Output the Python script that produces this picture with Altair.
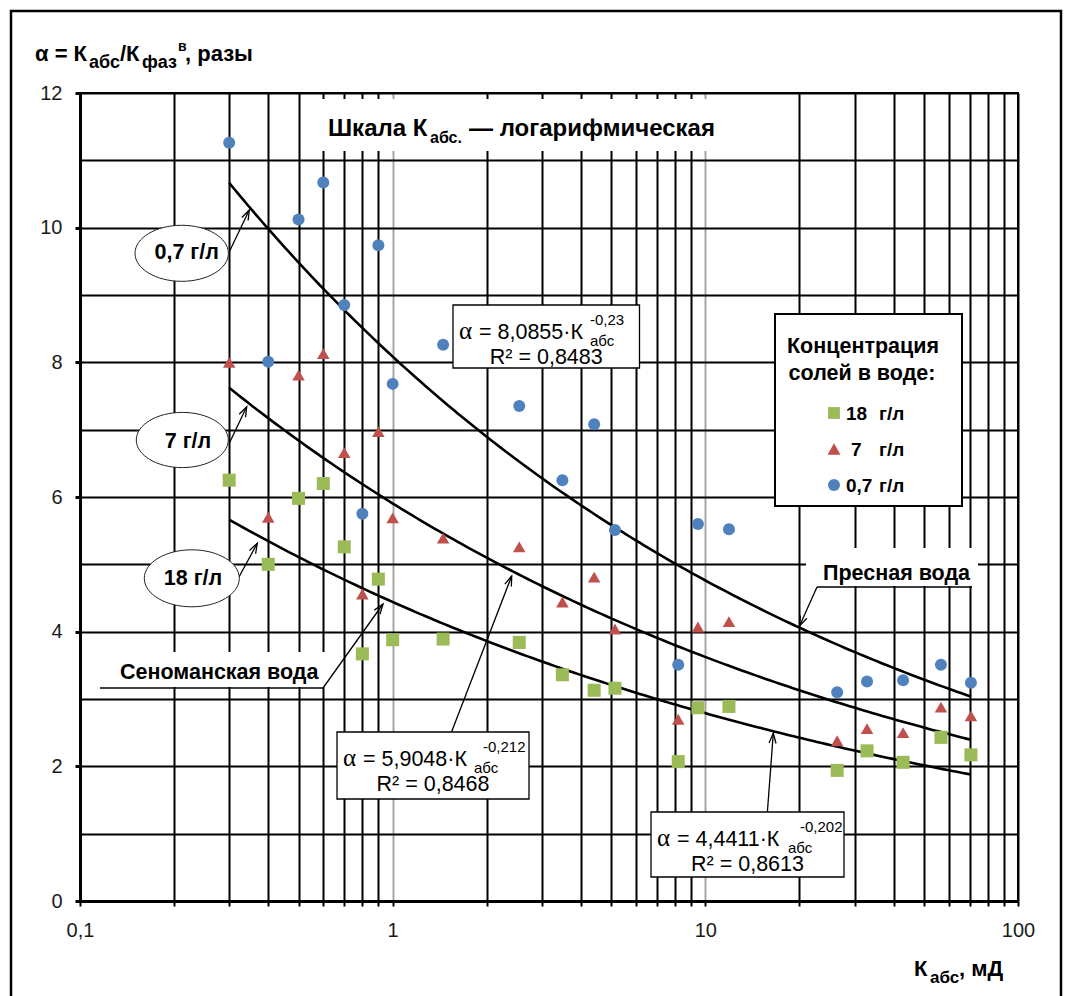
import math

import altair as alt
import numpy as np
import pandas as pd

# ---------------------------------------------------------------- data
# Absolute permeability K_abs, mD (same core samples for all three brines)
k_abs = [0.3, 0.4, 0.5, 0.6, 0.7, 0.8, 0.9, 1.0, 1.45, 2.54, 3.49, 4.41, 5.14,
         8.19, 9.47, 11.9, 26.4, 32.9, 42.9, 56.7, 70.7]

# alpha = K_abs / K_phase (water), times
alpha_07 = [11.26, 8.01, 10.12, 10.67, 8.85, 5.75, 9.74, 7.68, 8.26, 7.35, 6.25,
            7.08, 5.51, 3.51, 5.60, 5.52, 3.10, 3.26, 3.28, 3.51, 3.24]
alpha_7 = [8.00, 5.70, 7.81, 8.13, 6.66, 4.56, 6.97, 5.69, 5.39, 5.26, 4.44,
           4.81, 4.04, 2.70, 4.07, 4.15, 2.38, 2.56, 2.50, 2.88, 2.75]
alpha_18 = [6.25, 5.00, 5.98, 6.20, 5.26, 3.67, 4.78, 3.88, 3.89, 3.84, 3.36,
            3.13, 3.16, 2.07, 2.87, 2.89, 1.94, 2.23, 2.06, 2.43, 2.17]

series = ["0,7 г/л", "7 г/л", "18 г/л"]
colors = ["#4F81BD", "#C0504D", "#9BBB59"]
shapes = ["circle", "triangle-up", "square"]
sizes = [144, 170, 140]

# power-law trend lines alpha = a * K^b
fit_a = [8.0855, 5.9048, 4.4411]
fit_b = [-0.23, -0.212, -0.202]
fit_r2 = [0.8483, 0.8468, 0.8613]

x_ticks = [0.1, 0.2, 0.3, 0.4, 0.5, 0.6, 0.7, 0.8, 0.9,
           1, 2, 3, 4, 5, 6, 7, 8, 9,
           10, 20, 30, 40, 50, 60, 70, 80, 90, 100]
y_ticks = list(range(0, 13))

# ---------------------------------------------------------------- frames
points = pd.DataFrame({
    "k": k_abs * 3,
    "alpha": alpha_07 + alpha_7 + alpha_18,
    "series": [s for s in series for _ in k_abs],
})

k_line = np.geomspace(min(k_abs), max(k_abs), 160)
curves = pd.concat([
    pd.DataFrame({"k": k_line, "alpha": a * k_line ** b, "series": s})
    for s, a, b in zip(series, fit_a, fit_b)
])

SANS = "Liberation Sans"
SERIF = "Liberation Serif"
OX, OY = 80, 93          # top-left corner of the plot area on the canvas
ONE = pd.DataFrame({"k": [0]})


def num(v):
    return str(v).replace(".", ",")


def px(x):
    return alt.value(x - OX)


def py(y):
    return alt.value(y - OY)


def text(x, y, s, size, weight="bold", font=SANS, align="left"):
    return alt.Chart(ONE).mark_text(
        text=s, font=font, fontSize=size, fontWeight=weight, align=align,
        baseline="alphabetic", color="black",
    ).encode(x=px(x), y=py(y))


def box(x1, y1, x2, y2, stroke=None, width=1.0):
    kw = {"fill": "white"}
    if stroke:
        kw.update(stroke=stroke, strokeWidth=width)
    return alt.Chart(ONE).mark_rect(**kw).encode(
        x=px(x1), x2=px(x2), y=py(y1), y2=py(y2))


def segment(x1, y1, x2, y2, width=1.3):
    return alt.Chart(ONE).mark_rule(color="black", strokeWidth=width).encode(
        x=px(x1), y=py(y1), x2=px(x2), y2=py(y2))


HEAD = "M -0.35 1 L 0 0 L 0.35 1"          # open arrow head, tip at origin
ELLIPSE = "M -1 0 A 1 0.6 0 1 1 1 0 A 1 0.6 0 1 1 -1 0 Z"


def arrow(x1, y1, x2, y2):
    ang = math.degrees(math.atan2(x2 - x1, -(y2 - y1))) % 360
    line = segment(x1, y1, x2, y2)
    head = alt.Chart(ONE).mark_point(
        shape=HEAD, size=400, angle=ang, filled=False, color="black",
        strokeWidth=1.3, opacity=1,
    ).encode(x=px(x2), y=py(y2))
    return [line, head]


def ellipse(cx, cy, rx):
    return alt.Chart(ONE).mark_point(
        shape=ELLIPSE, size=(2 * rx) ** 2, filled=True, fill="white",
        stroke="#222222", strokeWidth=1, opacity=1,
    ).encode(x=px(cx), y=py(cy))


# ---------------------------------------------------------------- axes
x_axis = alt.Axis(
    values=x_ticks, grid=True,
    gridColor={"condition": {"test": "datum.value == 1 || datum.value == 10",
                             "value": "#a6a6a6"}, "value": "black"},
    gridWidth=2, domainColor="black", domainWidth=3,
    tickColor="black", tickWidth=2, tickSize=5,
    labelExpr="datum.value == 0.1 ? '0,1' : (datum.value == 1 || datum.value == 10"
              " || datum.value == 100) ? format(datum.value, 'd') : ''",
    labelFont=SANS, labelFontSize=20, labelColor="#1a1a1a", labelPadding=14,
    labelFlush=False, labelOverlap=False, title=None,
)
y_axis = alt.Axis(
    values=y_ticks, grid=True, gridColor="black", gridWidth=2,
    domainColor="black", domainWidth=3,
    tickColor="black", tickWidth=3, tickSize=5,
    tickOpacity={"condition": {"test": "datum.value % 2 == 0", "value": 1}, "value": 0},
    labelExpr="datum.value % 2 == 0 ? format(datum.value, 'd') : ''",
    labelFont=SANS, labelFontSize=20, labelColor="#1a1a1a", labelPadding=13,
    labelFlush=False, labelOverlap=False, title=None,
)
x_enc = alt.X("k:Q", scale=alt.Scale(type="log", domain=[0.1, 100], nice=False), axis=x_axis)
y_enc = alt.Y("alpha:Q", scale=alt.Scale(domain=[0, 12], nice=False, zero=False), axis=y_axis)

# ---------------------------------------------------------------- layers
layers = []

# outer frame of the figure
layers.append(alt.Chart(ONE).mark_rect(fill="white", fillOpacity=0, stroke="black", strokeWidth=2.5)
              .encode(x=px(11), x2=px(1061), y=py(11), y2=py(1010)))

# white backgrounds behind free-standing captions
layers += [box(310, 99, 720, 151), box(806, 548, 978, 586), box(98, 652, 326, 687)]

layers.append(alt.Chart(curves).mark_line(color="black", strokeWidth=2.6).encode(
    x=x_enc, y=y_enc, detail="series:N"))

# leader lines
layers += [segment(817, 587, 972, 587), segment(100, 688, 323, 688)]
layers += arrow(817, 587, 799.5, 626)
layers += arrow(323, 688, 383, 604)
layers += arrow(229.3, 251.7, 249.3, 210)
layers += arrow(229.3, 443.3, 246.7, 406.7)
layers += arrow(238.3, 578.3, 257.3, 543.3)
layers += arrow(451.6, 731.7, 511.7, 576)
layers += arrow(767.4, 811.7, 773.3, 733.3)

# series labels in ellipses
layers += [ellipse(181.7, 253.3, 46.7), ellipse(182.3, 440, 46), ellipse(191.8, 578.3, 47.5)]
layers += [text(186.7, 259, series[0], 21.5, align="center"),
           text(188, 448, series[1], 21.5, align="center"),
           text(193, 585, series[2], 21.5, align="center")]

# measured points
layers.append(alt.Chart(points).mark_point(filled=True, opacity=1).encode(
    x=x_enc, y=y_enc,
    color=alt.Color("series:N", scale=alt.Scale(domain=series, range=colors), legend=None),
    shape=alt.Shape("series:N", scale=alt.Scale(domain=series, range=shapes), legend=None),
    size=alt.Size("series:N", scale=alt.Scale(domain=series, range=sizes), legend=None),
    order=alt.Order("series:N", sort="descending"),
))

# trend-line equations
eq_boxes = [(453, 305, 639.5, 368, 137), (337, 732, 529, 799, 146), (651, 812, 844, 877, 149)]
for (l, t, r, b, sup_dx), a, p, r2 in zip(eq_boxes, fit_a, fit_b, fit_r2):
    base1, base2 = t + 34, t + 59
    layers.append(box(l, t, r, b, stroke="black", width=1.3))
    layers += [
        text(l + 6, base1, "α", 25, weight="normal", font=SERIF),
        text(l + 26, base1, f"= {num(a)}·К", 21.5, weight="normal"),
        text(l + 137, base1 + 7, "абс", 15, weight="normal"),
        text(l + sup_dx, base1 - 14, num(p), 15, weight="normal"),
        text((l + r) / 2, base2, f"R² = {num(r2)}", 21.5, weight="normal", align="center"),
    ]

# legend
layers.append(box(775, 314, 962, 506, stroke="black", width=2))
layers += [text(863, 353, "Концентрация", 21.5, align="center"),
           text(862, 380, "солей в воде:", 21.5, align="center")]
for i, (lab, col, shp, sz) in enumerate(zip(["18", "7", "0,7"], colors[::-1], shapes[::-1], sizes[::-1])):
    yc = 413 + i * 36
    layers.append(alt.Chart(ONE).mark_point(shape=shp, size=sz, filled=True, color=col, opacity=1)
                  .encode(x=px(834), y=py(yc)))
    layers += [text(846 if lab != "7" else 851, yc + 6.5, lab, 19),
               text(879, yc + 6.5, "г/л", 19)]

# captions
layers += [
    text(328, 136, "Шкала К", 24), text(430, 143, "абс.", 16),
    text(469, 136, "— логарифмическая", 24),
    text(823, 580, "Пресная вода", 21.5),
    text(120, 679, "Сеноманская вода", 21.5),
    # y title
    text(35, 61, "α = К", 22), text(89, 68, "абс", 18), text(120, 61, "/К", 22),
    text(142, 68, "фаз", 18), text(178, 51, "в", 14), text(185, 61, ", разы", 22),
    # x title
    text(914, 976, "К", 22), text(930, 983, "абс", 17), text(959, 976, ", мД", 22),
]

chart = alt.layer(*layers).properties(
    width=938, height=808,
    padding={"left": 80, "top": 93, "right": 54, "bottom": 95},
    autosize=alt.AutoSizeParams(type="none"),
    background="white",
).configure_view(stroke="black", strokeWidth=2)

chart.save("out.html", embed_options={"renderer": "svg", "actions": False})
